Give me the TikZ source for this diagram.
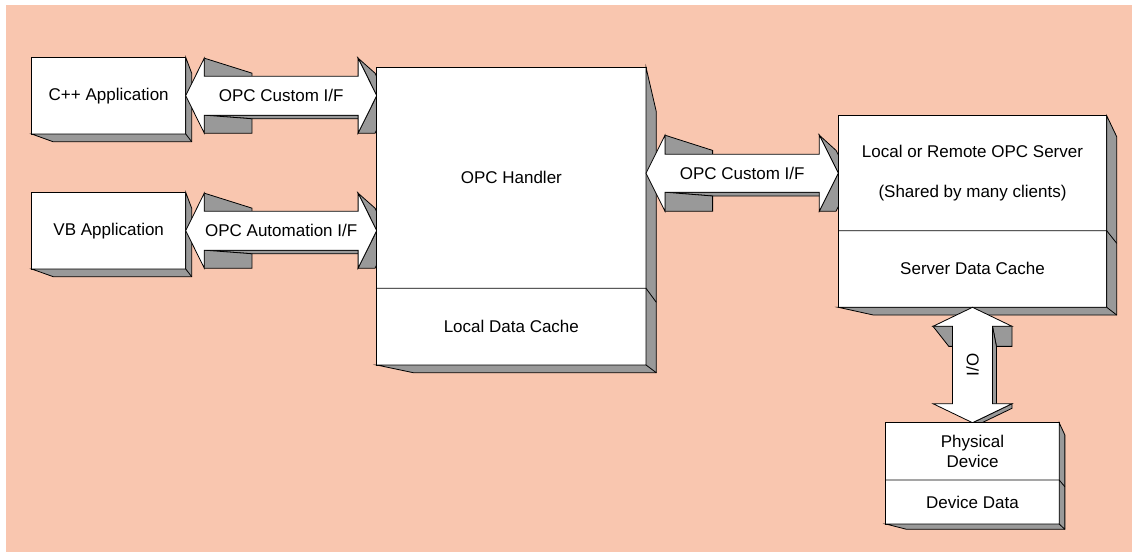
\documentclass[tikz,border=0pt]{standalone}
\usepackage{fontspec}
\setmainfont{Liberation Sans}
\usetikzlibrary{calc}

\definecolor{bgsalmon}{RGB}{249,198,175}
\definecolor{faceshade}{RGB}{153,153,153}

\tikzset{
  outline/.style={draw=black, line width=0.8pt, line join=miter},
  shade3d/.style={outline, fill=faceshade},
  frontface/.style={outline, fill=white},
  txt/.style={font=\fontsize{17}{20}\selectfont, inner sep=0pt, align=center},
  boxface/.style={frontface, rectangle, outer sep=0pt, inner sep=0pt, txt},
}

% one visible side face of an extruded shape: edge #1--#2 pulled towards point #3
\newcommand\sideface[3]{%
  \filldraw[shade3d] (#1) -- (#2) -- ($(#3)!0.8!(#2)$) -- ($(#3)!0.8!(#1)$) -- cycle;}

% right and bottom faces of a 3-D box
% #1 node, #2 depth right, #3 drop of top-right corner, #4 depth bottom, #5 shift of bottom-left corner
\newcommand\boxdepth[5]{%
  \filldraw[shade3d] (#1.north east) -- ($(#1.north east)+(#2,#3)$)
    -- ($(#1.south east)+(#2,#4)$) -- ($(#1.south west)+(#5,#4)$)
    -- (#1.south west) -- (#1.south east) -- cycle;
  \draw[outline] (#1.south east) -- ($(#1.south east)+(#2,#4)$);}

% horizontal double block arrow with depth
% #1 name, #2 left tip, #3 right tip, #4 head length, #5 head half-height, #6 shaft half-height
\newcommand\harrow[6]{%
  \coordinate (#1-v) at ($(#2)+(257,#5)$);
  \coordinate (#1-1) at (#2);
  \coordinate (#1-2) at ($(#2)+(#4,-#5)$);
  \coordinate (#1-3) at ($(#2)+(#4,-#6)$);
  \coordinate (#1-4) at ($(#3)+(-#4,-#6)$);
  \coordinate (#1-5) at ($(#3)+(-#4,-#5)$);
  \coordinate (#1-6) at (#3);
  \coordinate (#1-7) at ($(#3)+(-#4,#5)$);
  \coordinate (#1-8) at ($(#3)+(-#4,#6)$);
  \coordinate (#1-9) at ($(#2)+(#4,#6)$);
  \coordinate (#1-10) at ($(#2)+(#4,#5)$);
  \sideface{#1-8}{#1-9}{#1-v}
  \sideface{#1-9}{#1-10}{#1-v}
  \sideface{#1-2}{#1-3}{#1-v}
  \sideface{#1-5}{#1-6}{#1-v}
  \sideface{#1-6}{#1-7}{#1-v}
  \filldraw[frontface] (#1-1) -- (#1-2) -- (#1-3) -- (#1-4) -- (#1-5) -- (#1-6)
    -- (#1-7) -- (#1-8) -- (#1-9) -- (#1-10) -- cycle;}

% vertical double block arrow with depth
% #1 name, #2 top tip, #3 bottom tip, #4 head length, #5 head half-width, #6 shaft half-width
\newcommand\varrow[6]{%
  \coordinate (#1-v) at ($(#3)+(#5,4)$);
  \coordinate (#1-1) at (#2);
  \coordinate (#1-2) at ($(#2)+(#5,#4)$);
  \coordinate (#1-3) at ($(#2)+(#6,#4)$);
  \coordinate (#1-4) at ($(#3)+(#6,-#4)$);
  \coordinate (#1-5) at ($(#3)+(#5,-#4)$);
  \coordinate (#1-6) at (#3);
  \coordinate (#1-7) at ($(#3)+(-#5,-#4)$);
  \coordinate (#1-8) at ($(#3)+(-#6,-#4)$);
  \coordinate (#1-9) at ($(#2)+(-#6,#4)$);
  \coordinate (#1-10) at ($(#2)+(-#5,#4)$);
  \sideface{#1-9}{#1-10}{#1-v}
  \sideface{#1-2}{#1-3}{#1-v}
  \sideface{#1-3}{#1-4}{#1-v}
  \sideface{#1-5}{#1-6}{#1-v}
  \filldraw[frontface] (#1-1) -- (#1-2) -- (#1-3) -- (#1-4) -- (#1-5) -- (#1-6)
    -- (#1-7) -- (#1-8) -- (#1-9) -- (#1-10) -- cycle;}

\begin{document}
\begin{tikzpicture}[x=1pt,y=-1pt]
  \useasboundingbox (0,0) rectangle (1132,552);
  \fill[bgsalmon] (6,5) rectangle (1132,552);

  % client applications
  \node[boxface, minimum width=154pt, minimum height=76.7pt] (cpp) at (108.7,95.65) {C++ Application};
  \boxdepth{cpp}{6}{16}{7.7}{21.3}
  \node[boxface, minimum width=154pt, minimum height=76.7pt] (vb) at (108.7,230.65) {VB Application};
  \boxdepth{vb}{6}{16}{7.7}{21.6}

  % client-side interfaces
  \harrow{a1}{cpp.east}{$(cpp.east)+(191,0)$}{18.6}{37.5}{19.5}
  \node[txt] (a1-label) at ($(a1-1)!0.5!(a1-6)$) {OPC Custom I/F};
  \harrow{a2}{vb.east}{$(vb.east)+(191,0)$}{18.6}{37.5}{19.5}
  \node[txt] (a2-label) at ($(a2-1)!0.5!(a2-6)$) {OPC Automation I/F};

  % OPC handler with its cache
  \node[boxface, minimum width=269.3pt, minimum height=297.7pt] (handler) at (511.35,216.15) {};
  \boxdepth{handler}{10.3}{44.4}{7.7}{36.6}
  \coordinate (handler-div) at ($(handler.north west)+(0,221)$);
  \draw[outline] (handler-div) -- (handler-div -| handler.east) -- ++(10.3,14);
  \node[txt] (handler-name) at ($(handler.north)+(0,110.5)$) {OPC Handler};
  \node[txt] (handler-cache) at ($(handler.south)+(0,-38.3)$) {Local Data Cache};

  % server interface
  \coordinate (server-upper) at (972.5,173.2);
  \harrow{a3}{handler.east |- server-upper}{$(handler.east |- server-upper)+(192.3,0)$}{19}{38}{19}
  \node[txt] (a3-label) at ($(a3-1)!0.5!(a3-6)$) {OPC Custom I/F};

  % OPC server with its cache
  \node[boxface, minimum width=268.4pt, minimum height=191.6pt] (server) at (972.5,211.5) {};
  \boxdepth{server}{10}{21}{7.7}{35}
  \coordinate (server-div) at ($(server.north west)+(0,115)$);
  \draw[outline] (server-div) -- (server-div -| server.east) -- ++(10,12.6);
  \node[txt] (server-name) at ($(server.north)+(0,36)$) {Local or Remote OPC Server};
  \node[txt] (server-note) at ($(server.north)+(0,77.6)$) {(Shared by many clients)};
  \node[txt] (server-cache) at ($(server.south)+(0,-38.5)$) {Server Data Cache};

  % I/O link and the physical device
  \varrow{io}{server.south}{$(server.south)+(0,115.4)$}{19}{39.5}{20}
  \node[txt, rotate=90] (io-label) at ($(io-1)!0.5!(io-6)$) {I/O};

  \node[boxface, minimum width=173.3pt, minimum height=101.3pt] (device) at (972.5,473.35) {};
  \boxdepth{device}{5.7}{12.3}{5.3}{20.7}
  \coordinate (device-div) at ($(device.north west)+(0,57.3)$);
  \draw[outline] (device-div) -- (device-div -| device.east) -- ++(5.7,6.7);
  \node[txt] (device-name) at ($(device.north)+(0,28.6)$) {Physical\\Device};
  \node[txt] (device-data) at ($(device.south)+(0,-22)$) {Device Data};
\end{tikzpicture}
\end{document}
